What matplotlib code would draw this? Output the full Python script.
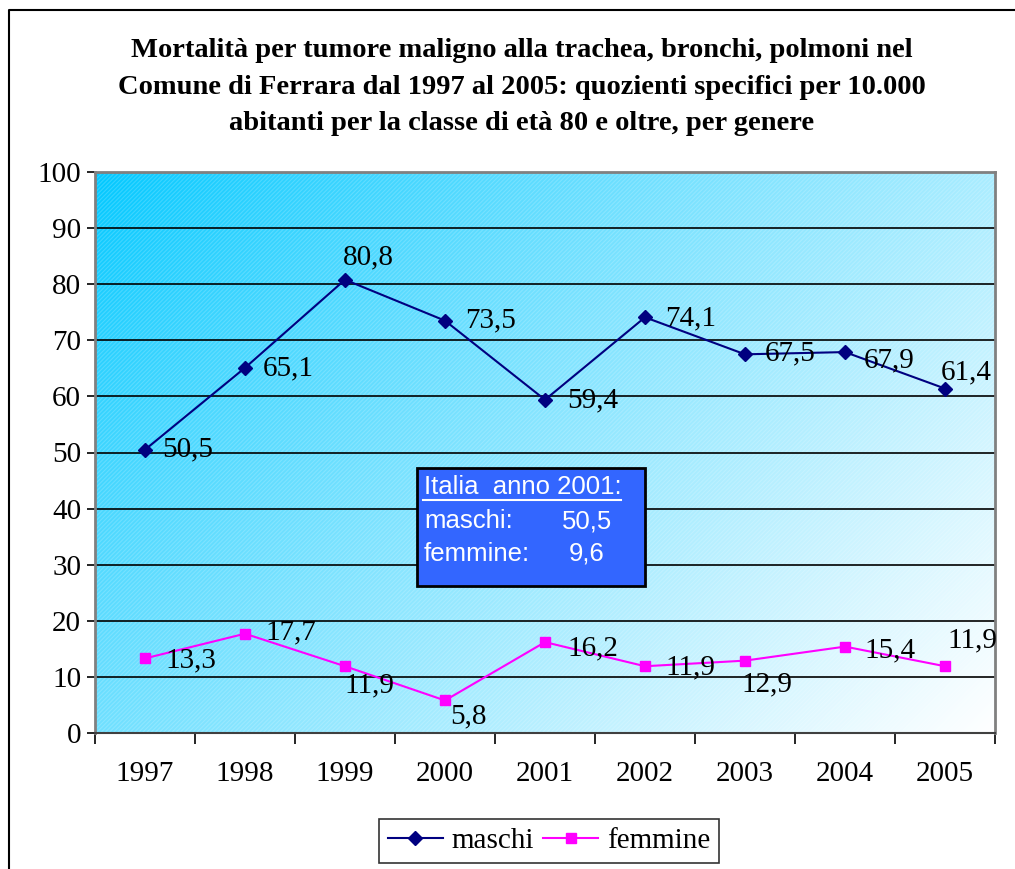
import numpy as np
import matplotlib
matplotlib.use("Agg")
import matplotlib.pyplot as plt
from matplotlib.patches import Rectangle
from matplotlib.lines import Line2D

years = ["1997", "1998", "1999", "2000", "2001", "2002", "2003", "2004", "2005"]
maschi = [50.5, 65.1, 80.8, 73.5, 59.4, 74.1, 67.5, 67.9, 61.4]
femmine = [13.3, 17.7, 11.9, 5.8, 16.2, 11.9, 12.9, 15.4, 11.9]
yticks = [0, 10, 20, 30, 40, 50, 60, 70, 80, 90, 100]
title = ("Mortalità per tumore maligno alla trachea, bronchi, polmoni nel\n"
         "Comune di Ferrara dal 1997 al 2005: quozienti specifici per 10.000\n"
         "abitanti per la classe di età 80 e oltre, per genere")
box_lines = ["Italia  anno 2001:", "maschi:", "femmine:"]
box_values = ["50,5", "9,6"]

# label offsets in pixels (dx, dy, ha)
m_off = [(17, 0, 'left'), (18, -1, 'left'), (23, 22, 'center'), (20, 0, 'left'),
         (22, -1, 'left'), (20, -1, 'left'), (20, 1, 'left'), (19, -8, 'left'),
         (21, 16, 'center')]
f_off = [(20, -2, 'left'), (20, 1, 'left'), (24, -19, 'center'), (23, -16, 'center'),
         (22, -6, 'left'), (20, -1, 'left'), (22, -24, 'center'), (19, -4, 'left'),
         (27, 26, 'center')]

W, H = 1015, 869
fig = plt.figure(figsize=(W / 100, H / 100), dpi=100)
fig.patch.set_facecolor("white")
plt.rcParams['hatch.linewidth'] = 0.8
serif = "Liberation Serif"
sans = "Liberation Sans"
FS = 21

ax = fig.add_axes([95 / W, 1 - 733 / H, 900 / W, 561 / H])
x = np.arange(len(years))
ax.set_xlim(-0.5, len(years) - 0.5)
ax.set_ylim(0, 100)

# gradient background
nx, ny = 300, 200
u = np.linspace(0, 1, nx)[None, :]
v = np.linspace(1, 0, ny)[:, None]
t = 0.62 * u + 0.38 * (1 - v)
t = np.clip(t, 0, 1) ** 0.85
c0 = np.array([0 / 255, 200 / 255, 255 / 255])
c1 = np.array([1.0, 1.0, 1.0])
img = c0[None, None, :] * (1 - t[..., None]) + c1[None, None, :] * t[..., None]
ax.imshow(img, extent=[0, 1, 0, 1], transform=ax.transAxes, aspect='auto',
          zorder=0, interpolation='bilinear')
ax.add_patch(Rectangle((0, 0), 1, 1, transform=ax.transAxes, facecolor='none',
                       edgecolor=(1, 1, 1, 0.18), hatch='////////', lw=0, zorder=0.5))

for yt in yticks[1:-1]:
    ax.axhline(yt, color='black', lw=1.2, zorder=1)

ax.plot(x, maschi, color='#000080', lw=1.5, marker='D', ms=7,
        markerfacecolor='#000080', markeredgecolor='#000080', zorder=3, label='maschi')
ax.plot(x, femmine, color='#FF00FF', lw=1.5, marker='s', ms=7.5,
        markerfacecolor='#FF00FF', markeredgecolor='#FF00FF', zorder=3, label='femmine')

def fmt(v):
    return ("%.1f" % v).replace('.', ',')

for xi, v, (dx, dy, ha) in zip(x, maschi, m_off):
    ax.annotate(fmt(v), (xi, v), xytext=(dx, dy), textcoords='offset pixels',
                ha=ha, va='center', fontsize=FS, family=serif, zorder=4)
for xi, v, (dx, dy, ha) in zip(x, femmine, f_off):
    ax.annotate(fmt(v), (xi, v), xytext=(dx, dy), textcoords='offset pixels',
                ha=ha, va='center', fontsize=FS, family=serif, zorder=4)

ax.set_yticks(yticks)
ax.set_yticklabels([str(v) for v in yticks], fontsize=FS, family=serif)
ax.tick_params(axis='y', direction='out', length=6, width=1.2, pad=4, color='black')
ax.set_xticks(np.arange(-0.5, len(years), 1.0))
ax.set_xticklabels([])
ax.set_xticks(x, minor=True)
ax.set_xticklabels(years, minor=True, fontsize=FS, family=serif)
ax.tick_params(axis='x', which='major', direction='out', length=8, width=1.2, color='black')
ax.tick_params(axis='x', which='minor', length=0, pad=20)
for s in ['top', 'right']:
    ax.spines[s].set_color('#808080')
    ax.spines[s].set_linewidth(2)
ax.spines['left'].set_color('#808080')
ax.spines['left'].set_linewidth(2)
ax.spines['bottom'].set_color('#404040')
ax.spines['bottom'].set_linewidth(1.5)

fig.text(0.514, 1 - 87 / H, title, ha='center', va='center', fontsize=20.5,
         fontweight='bold', family=serif, linespacing=1.58)

# info box
bx0, bx1, by0, by1 = 417, 645, 468, 586
fig.patches.append(Rectangle((bx0 / W, 1 - by1 / H), (bx1 - bx0) / W, (by1 - by0) / H,
                             transform=fig.transFigure, facecolor='#3366FF',
                             edgecolor='black', lw=2, zorder=5))
fy = [487, 521, 554]
for yy, s in zip(fy, box_lines):
    fig.text(424 / W, 1 - yy / H, s, ha='left', va='center', color='white',
             fontsize=18.5, family=sans, zorder=6)
fig.lines.append(Line2D([423 / W, 621 / W], [1 - 500 / H, 1 - 500 / H],
                        transform=fig.transFigure, color='white', lw=1.5, zorder=6))
fig.text(612 / W, 1 - fy[1] / H, box_values[0], ha='right', va='center', color='white',
         fontsize=18.5, family=sans, zorder=6)
fig.text(587 / W, 1 - fy[2] / H, box_values[1], ha='center', va='center', color='white',
         fontsize=18.5, family=sans, zorder=6)

# legend
leg = fig.legend(loc='center', bbox_to_anchor=(549 / W, 1 - 841 / H), ncol=2,
                 prop={'family': serif, 'size': FS}, frameon=True, fancybox=False,
                 edgecolor='black', handlelength=1.9, columnspacing=0.3,
                 handletextpad=0.3, borderpad=0.3)
leg.get_frame().set_linewidth(1.2)

# chart border
fig.lines.append(Line2D([9 / W, 9 / W, 1.0], [0, 1 - 10 / H, 1 - 10 / H],
                        transform=fig.transFigure, color='black', lw=1.5))

fig.savefig("out.png", dpi=100)
